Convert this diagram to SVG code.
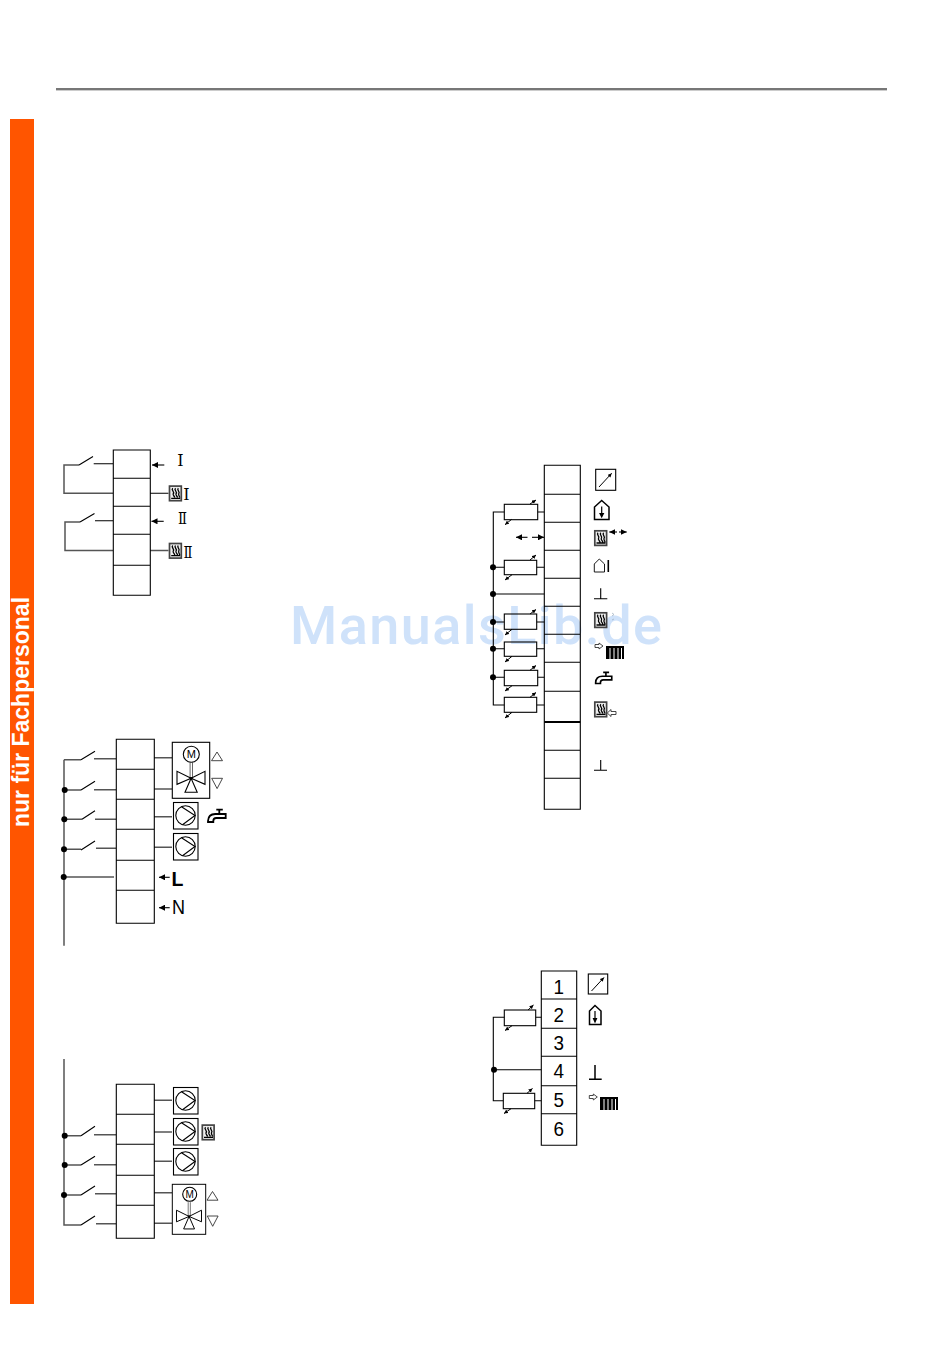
<svg xmlns="http://www.w3.org/2000/svg" width="950" height="1355" viewBox="0 0 950 1355">
<style>
.b{fill:none;stroke:#000;stroke-width:1.1}
.n{fill:none;stroke:#000;stroke-width:1.1}
.g{fill:none;stroke:#555;stroke-width:1.5}
.o{fill:none;stroke:#333;stroke-width:.9}
.a{fill:none;stroke:#000;stroke-width:1.1;marker-end:url(#h)}
.s{fill:none;stroke:#000;stroke-width:1;marker-end:url(#hs)}
.d{fill:#000}
.t{font-family:"Liberation Sans",Arial,sans-serif;fill:#000}
.c{font-size:21px;text-anchor:middle}
.r{font-family:"DejaVu Serif",serif;fill:#000;font-size:16px;text-anchor:middle}
</style>
<defs>
<marker id="h" markerUnits="userSpaceOnUse" markerWidth="7" markerHeight="6" refX="6" refY="3" orient="auto"><path d="M0,0L6,3L0,6Z" fill="#000"/></marker>
<marker id="hs" markerUnits="userSpaceOnUse" markerWidth="5" markerHeight="4" refX="4" refY="2" orient="auto"><path d="M0,0L4,2L0,4Z" fill="#000"/></marker>
<g id="heat">
<rect x=".8" y=".8" width="11.800" height="14.600" fill="#eee" stroke="#444" stroke-width="1.700"/>
<path d="M4,2.800C1.800,5 6.500,6 4.500,8.500C4,10 6,11 6,12.300M6.800,2.800C4.600,5 9.300,6 7.300,8.500C6.800,10 8.800,11 8.800,12.300M9.600,2.800C7.400,5 12,6 10,8.500C9.600,10 11,11 11,12.300M2.500,13H11.500" fill="none" stroke="#000" stroke-width="1.300"/>
</g>
<g id="pump">
<rect fill="#fff" stroke="#000" stroke-width="1.100" x=".5" y=".5" width="24.500" height="26.500"/>
<circle class="n" cx="12.500" cy="13.500" r="9.700"/>
<path class="n" d="M8.500,4.700L22,13.500L9.500,22.800"/>
</g>
<g id="valve">
<rect fill="#fff" stroke="#000" stroke-width="1.100" width="37.400" height="56"/>
<path d="M17.800,20V36M20.200,20V36" fill="none" stroke="#666" stroke-width="1"/>
<path class="n" d="M18.800,36L4.700,29V42ZM18.800,36L32.700,29V42ZM18.800,36L12.700,50H24.900Z"/>
<circle class="d" cx="18.800" cy="36" r="1.300"/>
</g>
<path id="up" class="o" d="M5.500,0L0,8.700H11Z"/>
<path id="down" class="o" d="M0,0H10.800L5.400,10.300Z"/>
<g id="tap"><path d="M18.400,5H8Q1,5 .7,12V13H6V12Q6,9 9,9H18.400ZM9,.7H15.500M12,.7V5" fill="#fff" stroke="#000" stroke-width="1.800"/></g>
<g id="rad"><rect width="18" height="13" fill="#000"/><path d="M4,2V13M8,2V13M12,2V13M15.500,2V13" stroke="#fff" stroke-width="1"/></g>
<path id="hollowR" d="M0,1.500H4V0L8,3L4,6V4.500H0Z" fill="#fff" stroke="#333" stroke-width=".9"/>
</defs>

<g id="page-rule"><rect x="56" y="88" width="831" height="2" fill="#777"/><rect x="56" y="90" width="831" height="1" fill="#ccc"/></g>
<g id="side-bar">
<rect x="10" y="119" width="24" height="1185" fill="#ff5500"/>
<text transform="translate(29,827) rotate(-90)" font-family="Liberation Sans,Arial,sans-serif" font-weight="700" font-size="23" fill="#fff">nur für Fachpersonal</text>
</g>
<text id="watermark" x="290" y="643.500" font-family="Roboto,Liberation Sans,sans-serif" font-weight="500" font-size="54" fill="#cfe2fa" textLength="372">ManualsLib.de</text>

<g id="connectors">
<path class="g" d="M79,465H64V493.300H113"/>
<path class="n" d="M79,465L93,456.500M93.700,463.700H113M150,493.300H168.500"/>
<path class="g" d="M80,522H65V550.500H113"/>
<path class="n" d="M80,522L94.500,513.500M95,520.700H113"/>
<path class="g" d="M150,550.500H168.500"/>
<path class="a" d="M164.300,465H152"/>
<path class="a" d="M163.700,521.300H151.500"/>
<path class="g" d="M64,759.700V945.700M64,759.700H81M94,758.700H116M64.500,790H81M94,789.700H116M64.500,819.300H82M95,819.300H116M64,849.300H81M96,848.300H116M64,877H114"/>
<path class="n" d="M81,759.700L95,751.300M81,790L95,781.300M82,819.300L95,810.700M81,850L95,841"/>
<path class="g" d="M154,757.700H172M154,789H172M154,816.700H172M154,847.300H172"/>
<circle class="d" cx="64.700" cy="790" r="3"/><circle class="d" cx="64.300" cy="819.300" r="3"/><circle class="d" cx="64" cy="849.300" r="3"/><circle class="d" cx="63.700" cy="877" r="3"/>
<path class="a" d="M169.700,877.300H159"/>
<path class="a" d="M169.700,907.700H159"/>
<path class="g" d="M64,1059V1225H81M64.500,1135.700H81M94,1134.700H116M64.500,1165H81M94,1164.700H116M64,1195H81M95,1193.700H116M96,1223.700H116"/>
<path class="n" d="M81,1135.700L95,1126.300M81,1165L95,1156.300M81,1195L95,1186M81,1225L95,1216"/>
<path class="g" d="M154,1100.300H172M154,1132H172M154,1161.300H172M154,1192.700H172M154,1223.300H172"/>
<circle class="d" cx="64.700" cy="1135.700" r="3"/><circle class="d" cx="64.700" cy="1165" r="3"/><circle class="d" cx="64" cy="1195" r="3"/>
<path class="n" d="M504.300,512H493.300V705H504.300M537.700,512H544.300M493,567.300H504.300M536.700,567.300H544.300M493,594H544.300M493,622H504.300M536.700,622H544.300M493,648.700H504.300M536.700,648.700H544.300M493,677.300H504.300M537.700,677.300H544.300M536.700,705H544.300"/>
<circle class="d" cx="493" cy="567.300" r="3"/><circle class="d" cx="493" cy="594" r="3"/><circle class="d" cx="493" cy="622" r="3"/><circle class="d" cx="493" cy="648.700" r="3"/><circle class="d" cx="493" cy="677.300" r="3"/>
<path class="a" d="M527.500,537.300H516"/><path class="a" d="M532,537.300H544"/>
<path class="n" d="M504.300,1017.300H493.300V1100.700H503.300M535.700,1017.300H541.300M494,1069.700H541.300M534.700,1100.700H541.300"/>
<circle class="d" cx="494" cy="1069.700" r="3"/>
</g>

<g id="block-a">
<path class="b" d="M113.300,450H150.300V595.300H113.300ZM113.300,478.300H150.300M113.300,506.300H150.300M113.300,534.300H150.300M113.300,565.300H150.300"/>
</g>
<g id="label-a1"><text class="r" x="180.500" y="466.300">Ⅰ</text></g>
<g id="heat-a1"><use href="#heat" x="168.700" y="485.300"/><text class="r" x="186.500" y="500">Ⅰ</text></g>
<g id="label-a2"><text class="r" x="182.500" y="523.500" textLength="9" lengthAdjust="spacingAndGlyphs">Ⅱ</text></g>
<g id="heat-a2"><use href="#heat" x="168.700" y="542.700"/><text class="r" x="188" y="557.500" textLength="9" lengthAdjust="spacingAndGlyphs">Ⅱ</text></g>

<g id="block-b">
<path class="b" d="M116.300,739.300H154.300V923.300H116.300ZM116.300,769.300H154.300M116.300,799.300H154.300M116.300,829.300H154.300M116.300,860.300H154.300M116.300,890.300H154.300"/>
</g>
<g id="valve-b">
<use href="#valve" x="172.300" y="742.300"/>
<circle class="n" cx="191.300" cy="754.300" r="8"/>
<text class="t" x="191.300" y="758.300" font-size="11" text-anchor="middle">M</text>
</g>
<use id="up-b" href="#up" x="211.500" y="752"/>
<use id="down-b" href="#down" x="211.700" y="778.300"/>
<use id="pump-b1" href="#pump" x="173" y="802"/>
<use id="tap-b" href="#tap" x="207.300" y="809"/>
<use id="pump-b2" href="#pump" x="173" y="833"/>
<g id="label-l"><text class="t" x="171.500" y="885.700" font-size="19.500" font-weight="700">L</text></g>
<g id="label-n"><text class="t" x="172" y="914.300" font-size="19.500" textLength="13" lengthAdjust="spacingAndGlyphs">N</text></g>

<g id="block-c">
<path class="b" d="M116.300,1084.300H154.300V1238.300H116.300ZM116.300,1114.300H154.300M116.300,1144.300H154.300M116.300,1175.300H154.300M116.300,1205.300H154.300"/>
</g>
<use id="pump-c1" href="#pump" x="173" y="1087"/>
<use id="pump-c2" href="#pump" x="173" y="1118"/>
<use id="heat-c" href="#heat" x="201.500" y="1124.300"/>
<use id="pump-c3" href="#pump" x="173" y="1148"/>
<g id="valve-c">
<use href="#valve" transform="translate(172.300,1184.300) scale(.893)"/>
<circle class="n" cx="189.700" cy="1194.300" r="7"/>
<text class="t" x="189.700" y="1198" font-size="10" text-anchor="middle">M</text>
</g>
<use id="up-c" href="#up" x="207" y="1191.500"/>
<use id="down-c" href="#down" x="207.300" y="1216"/>

<g id="block-d">
<path class="b" d="M544.300,465.300H580.300V809.300H544.300ZM544.300,494.300H580.300M544.300,522.300H580.300M544.300,550.300H580.300M544.300,578.300H580.300M544.300,606.300H580.300M544.300,634.300H580.300M544.300,662.300H580.300M544.300,691.300H580.300M544.300,750.300H580.300M544.300,778.300H580.300"/>
<path d="M544.300,722H580.300" stroke="#000" stroke-width="2" fill="none"/>
</g>
<g id="res-d1"><rect class="b" x="504.300" y="504.300" width="33.400" height="15.400"/><path class="s" d="M511.700,519.300L505,524.700"/><path class="s" d="M530,504L536,500"/></g>
<g id="res-d2"><rect class="b" x="504.300" y="560.300" width="32.400" height="14.400"/><path class="s" d="M512,574.700L505,580"/><path class="s" d="M530,560L536,555"/></g>
<g id="res-d3"><rect class="b" x="504.300" y="614" width="32.400" height="15.300"/><path class="s" d="M512,629.300L505,635"/><path class="s" d="M530,614L536,609.500"/></g>
<g id="res-d4"><rect class="b" x="504.300" y="642" width="32.400" height="14.300"/><path class="s" d="M512,656.300L505,662"/></g>
<g id="res-d5"><rect class="b" x="504.300" y="670.300" width="33.400" height="15.400"/><path class="s" d="M512,685.700L505,691"/><path class="s" d="M530,670.300L536,665.500"/></g>
<g id="res-d6"><rect class="b" x="504.300" y="697.300" width="32.400" height="15"/><path class="s" d="M512,712.300L505,718"/><path class="s" d="M530,697.300L536,692.500"/></g>

<g id="sensor-d"><rect class="b" x="595.700" y="469.300" width="20" height="21"/><path class="s" d="M599,487L611.700,473.300"/></g>
<g id="house-d1"><path d="M601.700,500.500L609,507V519.500H594.500V507Z" fill="#fff" stroke="#000" stroke-width="1.500"/><path d="M601.700,506.500V515M600,513.500H603.400L601.700,517Z" stroke="#000" stroke-width="1.200"/></g>
<g id="heat-d1"><use href="#heat" x="594" y="530"/><path class="a" d="M617,532H609.300"/><path class="a" d="M619,532H626.700"/></g>
<g id="house-d2"><path d="M599.300,559L604.500,564V572H594.300V564Z" fill="#fff" stroke="#000" stroke-width=".9"/><path d="M608.300,560V572" stroke="#000" stroke-width="1.600"/></g>
<path id="ground-d1" class="n" d="M594,598.700H607.300M600.700,588.300V598.700"/>
<g id="heat-d2"><use href="#heat" x="594" y="612"/><path d="M612,613L614,614.500L612,616M612,620L614,619" fill="none" stroke="#9ab" stroke-width=".7"/></g>
<g id="rad-d"><use href="#hollowR" x="595" y="643"/><use href="#rad" x="606" y="646"/></g>
<use id="tap-d" href="#tap" transform="translate(595,671.700) scale(.91)"/>
<g id="heat-d3"><use href="#heat" x="594" y="701.300"/><path d="M616,711.500H611V709.500L607.300,713L611,716.500V714.500H616Z" fill="#fff" stroke="#333" stroke-width=".9"/></g>
<path id="ground-d2" class="n" d="M594,770.300H607M600.700,760V770.300"/>

<g id="block-e">
<path class="b" d="M541.300,971H576.700V1145.300H541.300ZM541.300,999H576.700M541.300,1028.300H576.700M541.300,1056.300H576.700M541.300,1085.700H576.700M541.300,1113.700H576.700"/>
<text class="t c" x="558.700" y="993.800" textLength="10.500" lengthAdjust="spacingAndGlyphs">1</text>
<text class="t c" x="558.700" y="1021.800" textLength="10.500" lengthAdjust="spacingAndGlyphs">2</text>
<text class="t c" x="558.700" y="1050.200" textLength="10.500" lengthAdjust="spacingAndGlyphs">3</text>
<text class="t c" x="558.700" y="1078.200" textLength="10.500" lengthAdjust="spacingAndGlyphs">4</text>
<text class="t c" x="558.700" y="1107.200" textLength="10.500" lengthAdjust="spacingAndGlyphs">5</text>
<text class="t c" x="558.700" y="1135.500" textLength="10.500" lengthAdjust="spacingAndGlyphs">6</text>
</g>
<g id="res-e1"><rect class="b" x="504.300" y="1010" width="31.400" height="15.700"/><path class="s" d="M512,1025.700L505,1030.500"/><path class="s" d="M528,1010L533.500,1005"/></g>
<g id="res-e2"><rect class="b" x="503.300" y="1093.300" width="31.400" height="15.400"/><path class="s" d="M511,1108.700L504,1113.500"/><path class="s" d="M527,1093.300L532.500,1088.500"/></g>
<g id="sensor-e"><rect class="b" x="588.300" y="974" width="19.400" height="20"/><path class="s" d="M591.500,991L604,977.500"/></g>
<g id="house-e"><path d="M595,1005.500L601,1011V1024.500H589.500V1011Z" fill="#fff" stroke="#000" stroke-width="1.500"/><path d="M595,1011V1020M593.500,1018.500H596.500L595,1022Z" stroke="#000" stroke-width="1.200"/></g>
<path id="ground-e" d="M589,1079.300H601.700M595,1065V1079.300" fill="none" stroke="#000" stroke-width="1.500"/>
<g id="rad-e"><use href="#hollowR" x="589.300" y="1094"/><use href="#rad" x="600" y="1097"/></g>
</svg>
